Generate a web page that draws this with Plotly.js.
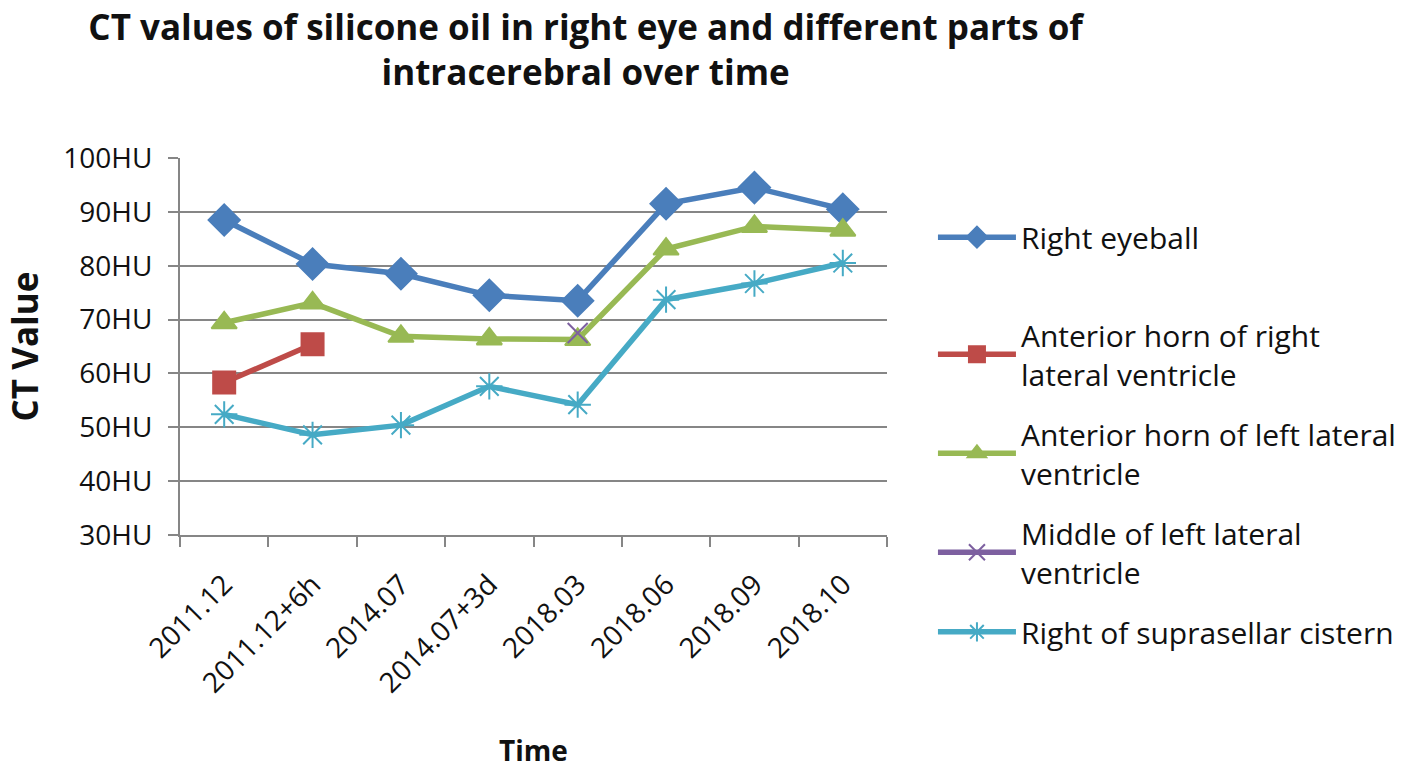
<!DOCTYPE html>
<html>
<head>
<meta charset="utf-8">
<script src="https://cdn.plot.ly/plotly-3.0.1.min.js"></script>
<style>html,body{margin:0;padding:0;background:#fff;}#chart{width:1418px;height:769px;}</style>
</head>
<body>
<div id="chart"></div>
<script>
const categories = ["2011.12", "2011.12+6h", "2014.07", "2014.07+3d", "2018.03", "2018.06", "2018.09", "2018.10"];
const rightEyeball = [88.5, 80.3, 78.5, 74.5, 73.5, 91.5, 94.5, 90.5];
const rightAntHorn = [58.3, 65.4, null, null, null, null, null, null];
const leftAntHorn = [69.4, 73.1, 66.9, 66.4, 66.3, 83.1, 87.3, 86.6];
const leftMiddle = [null, null, null, null, 67.5, null, null, null];
const suprasellar = [52.4, 48.6, 50.4, 57.6, 54.2, 73.7, 76.7, 80.5];
const yTickVals = [30, 40, 50, 60, 70, 80, 90, 100];
const yTickText = ["30HU", "40HU", "50HU", "60HU", "70HU", "80HU", "90HU", "100HU"];

const FONT = "'Open Sans', 'Noto Sans', sans-serif";

function tr(name, y, color, symbol, size, legendId) {
  return {
    type: "scatter", mode: "lines+markers", x: categories, y: y, name: name,
    legend: legendId, legendgroup: name, connectgaps: false,
    line: {color: color, width: 5.5},
    marker: {symbol: symbol, size: size, color: color, line: {color: color, width: 2}}
  };
}

const data = [
  tr("Right eyeball", rightEyeball, "#4a7ebb", "diamond", 24, "legend"),
  tr("Anterior horn of right<br>lateral ventricle", rightAntHorn, "#be4b48", "square", 22, "legend2"),
  tr("Anterior horn of left lateral<br>ventricle", leftAntHorn, "#98b954", "triangle-up", 22, "legend2"),
  tr("Middle of left lateral<br>ventricle", leftMiddle, "#7d60a0", "x-thin-open", 20, "legend2"),
  tr("Right of suprasellar cistern", suprasellar, "#46aac5", "asterisk-open", 22, "legend2")
];

const legendCommon = {
  x: 1.065, xanchor: "left",
  font: {family: FONT, size: 30, color: "#111111"},
  tracegroupgap: 18, traceorder: "grouped",
  bgcolor: "rgba(0,0,0,0)", borderwidth: 0, itemwidth: 78
};

const layout = {
  width: 1418, height: 769,
  paper_bgcolor: "#ffffff", plot_bgcolor: "#ffffff",
  margin: {l: 180, r: 531, t: 158, b: 234},
  font: {family: FONT, color: "#222222"},
  title: {
    text: "<b>CT values of silicone oil in right eye and different parts of</b><br><b>intracerebral over time</b>",
    font: {family: FONT, size: 35, color: "#111111"},
    x: 0.413, xanchor: "center", y: 0.948, yanchor: "top", yref: "container"
  },
  xaxis: {
    type: "category",
    range: [-0.5, 7.5],
    tickangle: -45,
    tickson: "boundaries",
    ticks: "outside", ticklen: 10, tickwidth: 2, tickcolor: "#868686",
    showline: true, linecolor: "#868686", linewidth: 2,
    showgrid: false,
    ticklabelstandoff: 20,
    tickfont: {family: FONT, size: 28, color: "#111111"},
    title: {text: "<b>Time</b>", font: {family: FONT, size: 28, color: "#111111"}, standoff: 44}
  },
  yaxis: {
    range: [30, 100],
    tickvals: yTickVals, ticktext: yTickText,
    ticks: "outside", ticklen: 10, tickwidth: 2, tickcolor: "#868686",
    showline: true, linecolor: "#868686", linewidth: 2,
    showgrid: true, gridcolor: "#868686", gridwidth: 2,
    zeroline: false,
    ticklabelstandoff: 10,
    tickfont: {family: FONT, size: 28, color: "#111111"},
    title: {text: "<b>CT Value</b>", font: {family: FONT, size: 35, color: "#111111"}, standoff: 14}
  },
  showlegend: true,
  legend: Object.assign({}, legendCommon, {y: 0.79, yanchor: "middle"}),
  legend2: Object.assign({}, legendCommon, {y: 0.60, yanchor: "top"})
};

Plotly.newPlot("chart", data, layout, {displayModeBar: false, staticPlot: true});
</script>
</body>
</html>
